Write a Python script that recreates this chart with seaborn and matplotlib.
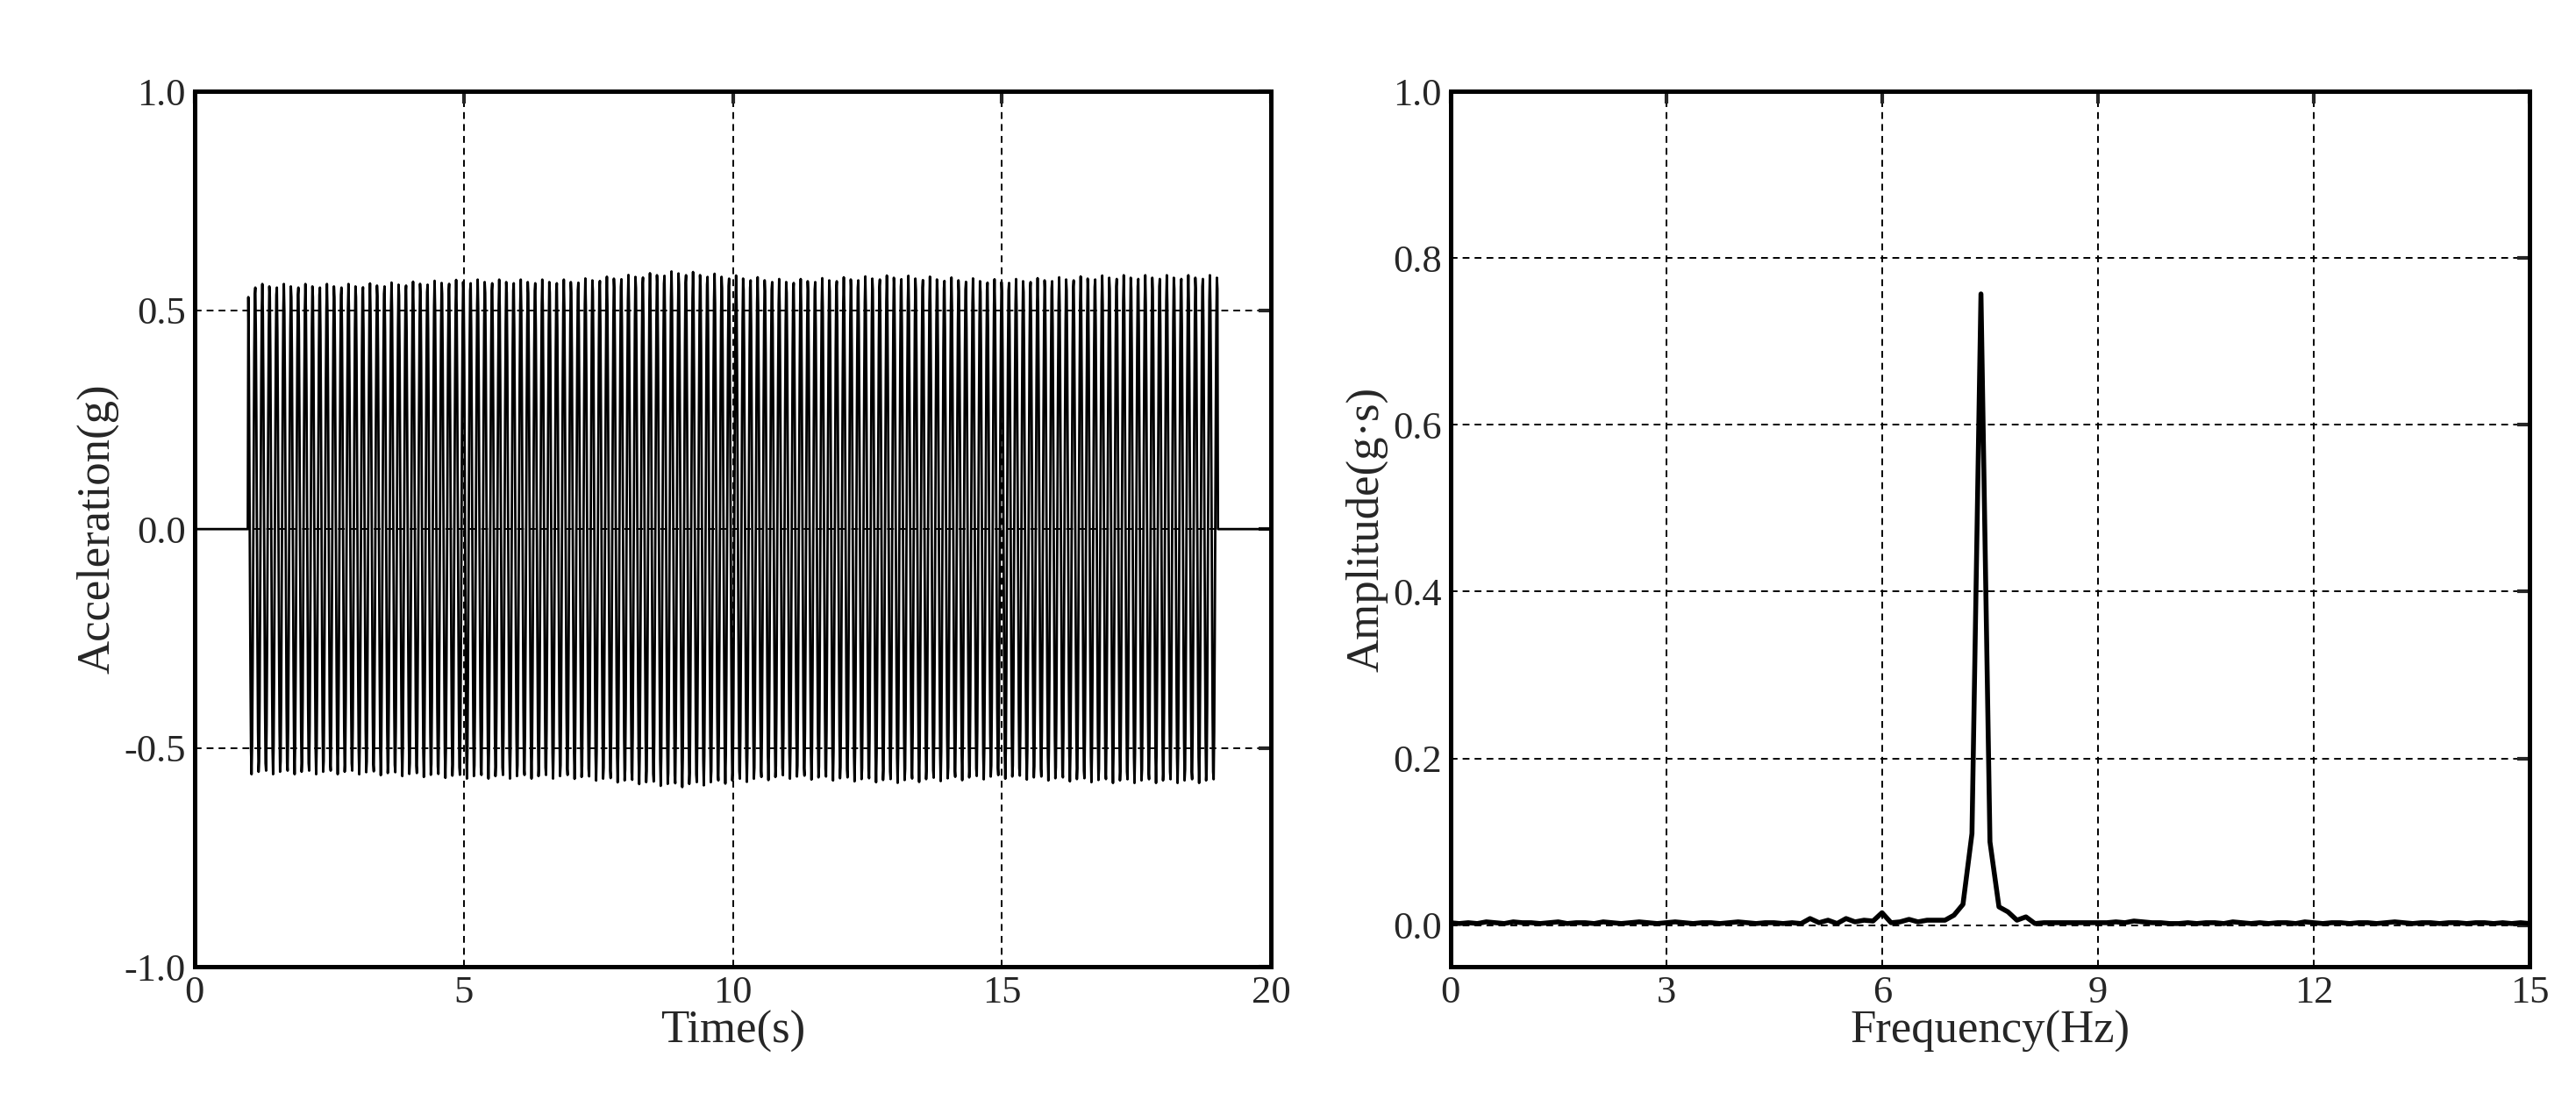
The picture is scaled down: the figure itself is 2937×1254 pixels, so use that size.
import numpy as np
import matplotlib
matplotlib.use("Agg")
import matplotlib.pyplot as plt
import seaborn as sns

# ---- data ----
sig_freq_hz = 7.5
sig_start_s, sig_end_s = 1.0, 19.0
fs_hz = 100
env_times = [1, 3, 5, 7, 9, 11, 13, 15, 17, 19]
env_amps = [0.56, 0.56, 0.57, 0.57, 0.59, 0.57, 0.58, 0.57, 0.58, 0.58]

spec_freq_step = 0.125
spec_amp = [0.003, 0.002, 0.003, 0.002, 0.004, 0.003, 0.002, 0.004, 0.003, 0.003,
            0.002, 0.003, 0.004, 0.002, 0.003, 0.003, 0.002, 0.004, 0.003, 0.002,
            0.003, 0.004, 0.003, 0.002, 0.003, 0.004, 0.003, 0.002, 0.003, 0.003,
            0.002, 0.003, 0.004, 0.003, 0.002, 0.003, 0.003, 0.002, 0.003, 0.002,
            0.008, 0.003, 0.006, 0.002, 0.008, 0.004, 0.006, 0.005, 0.015, 0.003,
            0.004, 0.007, 0.004, 0.006, 0.006, 0.006, 0.012, 0.025, 0.11, 0.757,
            0.10, 0.022, 0.016, 0.006, 0.010, 0.002, 0.003, 0.003, 0.003, 0.003,
            0.003, 0.003, 0.003, 0.003, 0.004, 0.003, 0.005, 0.004, 0.003, 0.003,
            0.002, 0.002, 0.003, 0.002, 0.003, 0.003, 0.002, 0.004, 0.003, 0.002,
            0.003, 0.002, 0.003, 0.003, 0.002, 0.004, 0.003, 0.002, 0.003, 0.003,
            0.002, 0.003, 0.003, 0.002, 0.003, 0.004, 0.003, 0.002, 0.003, 0.003,
            0.002, 0.003, 0.003, 0.002, 0.003, 0.003, 0.002, 0.003, 0.002, 0.003,
            0.002]

# ---- build time series ----
t = np.arange(0, 20 + 1 / fs_hz, 1 / fs_hz)
env = np.interp(t, env_times, env_amps)
active = (t >= sig_start_s) & (t <= sig_end_s)
acc = np.where(active, env * np.sin(2 * np.pi * sig_freq_hz * (t - sig_start_s) + 1.9), 0.0)
freqs = np.arange(len(spec_amp)) * spec_freq_step

sns.set_style("white")
plt.rcParams['font.family'] = ['Liberation Serif', 'DejaVu Serif']
plt.rcParams['mathtext.fontset'] = 'stix'

fig = plt.figure(figsize=(14.685, 6.27), dpi=200)
ax1 = fig.add_axes([0.0755, 0.121, 0.418, 0.796])
ax2 = fig.add_axes([0.563, 0.121, 0.419, 0.796])

sns.lineplot(x=t, y=acc, ax=ax1, color='black', lw=1.0, estimator=None)
sns.lineplot(x=freqs, y=spec_amp, ax=ax2, color='black', lw=2.0, estimator=None)

ax1.set_xlim(0, 20); ax1.set_ylim(-1, 1)
ax1.set_xticks([0, 5, 10, 15, 20]); ax1.set_yticks([-1, -0.5, 0, 0.5, 1])
ax1.set_yticklabels(['-1.0', '-0.5', '0.0', '0.5', '1.0'])
ax1.set_xlabel('Time(s)', fontsize=19, labelpad=0)
ax1.set_ylabel('Acceleration(g)', fontsize=19, labelpad=2)

ax2.set_xlim(0, 15); ax2.set_ylim(-0.05, 1.0)
ax2.set_xticks([0, 3, 6, 9, 12, 15]); ax2.set_yticks([0, 0.2, 0.4, 0.6, 0.8, 1.0])
ax2.set_yticklabels(['0.0', '0.2', '0.4', '0.6', '0.8', '1.0'])
ax2.set_xlabel('Frequency(Hz)', fontsize=19, labelpad=0)
ax2.set_ylabel('Amplitude(g·s)', fontsize=19, labelpad=2)

for ax in (ax1, ax2):
    ax.grid(True, color='black', linestyle=(0, (4, 3)), linewidth=0.7)
    ax.tick_params(direction='in', labelsize=16, length=5, width=1.5,
                   top=True, right=True)
    for s in ax.spines.values():
        s.set_linewidth(1.8); s.set_color('black')

fig.savefig('out.png', dpi=200)
